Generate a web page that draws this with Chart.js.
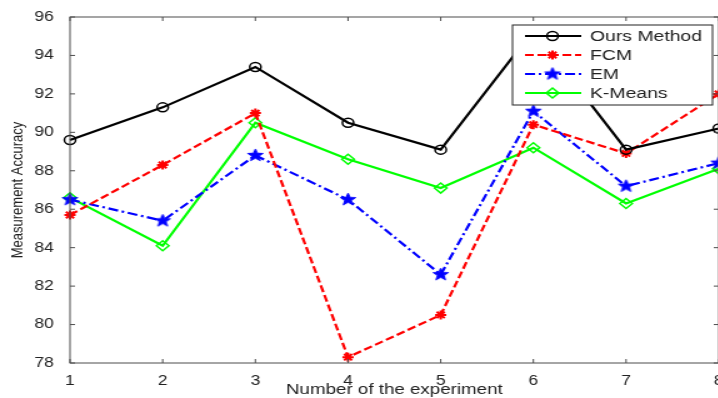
<!DOCTYPE html>
<html>
<head>
<meta charset="utf-8">
<script src="https://cdn.jsdelivr.net/npm/chart.js@4"></script>
<style>
  html, body { margin: 0; padding: 0; overflow: hidden; background: #fff; }
</style>
</head>
<body>
<!-- the reference is stretched sideways, so the canvas is drawn narrow and widened by css -->
<canvas id="chart" width="592" height="398" style="display:block;width:740px;height:398px"></canvas>
<script>
const experiments = ['1', '2', '3', '4', '5', '6', '7', '8'];
const oursMethod = [89.6, 91.3, 93.4, 90.5, 89.1, 95.3, 89.1, 90.2];
const fcm = [85.7, 88.3, 91.0, 78.3, 80.5, 90.4, 88.9, 92.0];
const em = [86.5, 85.4, 88.8, 86.5, 82.6, 91.1, 87.2, 88.4];
const kMeans = [86.6, 84.1, 90.5, 88.6, 87.1, 89.2, 86.3, 88.1];
const yMin = 78, yMax = 96, yStep = 2;

const textColor = '#222';
const axisColor = '#4d4d4d';
Chart.defaults.font.family = '"Liberation Sans", Arial, sans-serif';

function pentagram(color, r) {
  const c = document.createElement('canvas');
  const size = Math.ceil(r * 2 + 4);
  c.width = size;
  c.height = size;
  const g = c.getContext('2d');
  g.translate(size / 2, size / 2);
  g.beginPath();
  for (let i = 0; i < 10; i++) {
    const rad = i % 2 ? r * 0.42 : r;
    const ang = -Math.PI / 2 + i * Math.PI / 5;
    g.lineTo(rad * Math.cos(ang), rad * Math.sin(ang));
  }
  g.closePath();
  g.fillStyle = color;
  g.fill();
  g.strokeStyle = color;
  g.lineWidth = 1;
  g.stroke();
  return c;
}

// box around the plot with inward ticks on all sides
const frame = {
  id: 'frame',
  afterDatasetsDraw(chart) {
    const { ctx, chartArea: a, scales: { x, y } } = chart;
    ctx.save();
    ctx.strokeStyle = axisColor;
    ctx.lineWidth = 1;
    ctx.strokeRect(a.left, a.top, a.right - a.left, a.bottom - a.top);
    ctx.beginPath();
    x.ticks.forEach((t, i) => {
      const px = x.getPixelForTick(i);
      ctx.moveTo(px, a.bottom); ctx.lineTo(px, a.bottom - 4);
      ctx.moveTo(px, a.top); ctx.lineTo(px, a.top + 4);
    });
    y.ticks.forEach(t => {
      const py = y.getPixelForValue(t.value);
      ctx.moveTo(a.left, py); ctx.lineTo(a.left + 4, py);
      ctx.moveTo(a.right, py); ctx.lineTo(a.right - 4, py);
    });
    ctx.stroke();
    ctx.restore();
  }
};

const boxLegend = {
  id: 'boxLegend',
  afterDraw(chart) {
    const { ctx, chartArea: a } = chart;
    const left = a.left + 354, top = a.top + 8, w = 160, h = 80;
    ctx.save();
    ctx.fillStyle = '#fff';
    ctx.fillRect(left, top, w, h);
    ctx.strokeStyle = '#222';
    ctx.lineWidth = 1;
    ctx.strokeRect(left, top, w, h);

    chart.data.datasets.forEach((ds, i) => {
      const cy = top + 11 + i * 19;
      ctx.strokeStyle = ds.borderColor;
      ctx.lineWidth = ds.borderWidth;
      ctx.setLineDash(ds.borderDash || []);
      ctx.beginPath();
      ctx.moveTo(left + 10, cy);
      ctx.lineTo(left + 55, cy);
      ctx.stroke();
      ctx.setLineDash([]);

      ctx.fillStyle = ds.pointBackgroundColor;
      ctx.strokeStyle = ds.borderColor;
      ctx.lineWidth = ds.pointBorderWidth;
      Chart.helpers.drawPoint(ctx, {
        pointStyle: ds.pointStyle,
        radius: ds.pointRadius,
        rotation: 0,
        borderWidth: ds.pointBorderWidth
      }, left + 32, cy);

      ctx.fillStyle = textColor;
      ctx.font = '15.5px "Liberation Sans", Arial, sans-serif';
      ctx.textBaseline = 'middle';
      ctx.textAlign = 'left';
      ctx.fillText(ds.label, left + 62, cy + 1);
    });
    ctx.restore();
  }
};

const chart = new Chart(document.getElementById('chart'), {
  type: 'line',
  data: {
    labels: experiments,
    datasets: [
      {
        label: 'Ours Method', data: oursMethod,
        borderColor: '#000', borderWidth: 2.2,
        pointStyle: 'circle', pointRadius: 4.5, pointBorderWidth: 1.5,
        pointBackgroundColor: 'rgba(0,0,0,0)', clip: false
      },
      {
        label: 'FCM', data: fcm,
        borderColor: '#ff0000', borderWidth: 2.2, borderDash: [7, 3],
        pointStyle: 'star', pointRadius: 4.5, pointBorderWidth: 2,
        pointBackgroundColor: '#ff0000', clip: false
      },
      {
        label: 'EM', data: em,
        borderColor: '#0000ff', borderWidth: 2.2, borderDash: [8, 3, 2, 3],
        pointStyle: pentagram('#0000ff', 6.5), pointRadius: 6, pointBorderWidth: 1,
        pointBackgroundColor: '#0000ff', clip: false
      },
      {
        label: 'K-Means', data: kMeans,
        borderColor: '#00ff00', borderWidth: 2.2,
        pointStyle: 'rectRot', pointRadius: 5, pointBorderWidth: 1.5,
        pointBackgroundColor: 'rgba(0,0,0,0)', clip: false
      }
    ]
  },
  options: {
    responsive: false,
    animation: false,
    devicePixelRatio: 1,
    layout: { padding: { top: 17, right: 17, left: 0, bottom: 0 } },
    elements: { line: { tension: 0 } },
    plugins: { legend: { display: false }, tooltip: { enabled: false } },
    scales: {
      x: {
        offset: false,
        grid: { display: false },
        border: { display: false },
        ticks: { color: textColor, font: { size: 14 }, padding: 2, maxRotation: 0 },
        title: {
          display: true, text: 'Number of the experiment', color: textColor,
          font: { size: 15 }, padding: { top: 0, bottom: -1 }
        },
        afterFit(scale) { scale.height = 35; }
      },
      y: {
        min: yMin, max: yMax,
        grid: { display: false },
        border: { display: false },
        ticks: { stepSize: yStep, color: textColor, font: { size: 14 }, padding: 5 },
        title: {
          display: true, text: 'Measurement Accuracy', color: textColor,
          font: { size: 13 }, padding: { top: 7, bottom: 0 }
        },
        afterFit(scale) { scale.width = 56; }
      }
    }
  },
  plugins: [frame, boxLegend]
});
chart.canvas.style.width = '740px';
chart.canvas.style.height = '398px';
</script>
</body>
</html>
